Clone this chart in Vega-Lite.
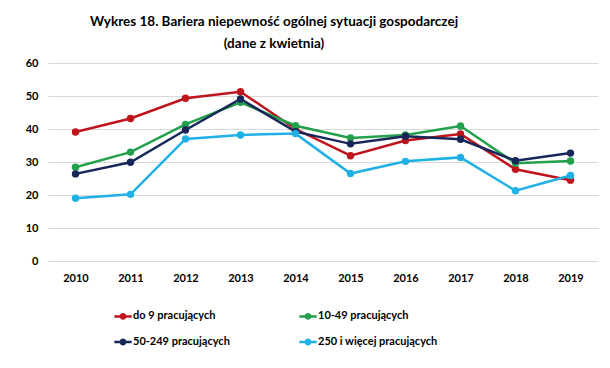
{
  "$schema": "https://vega.github.io/schema/vega-lite/v6.json",
  "width": 550,
  "height": 198,
  "autosize": {"type": "none"},
  "padding": {"left": 48, "top": 63, "right": 12, "bottom": 107},
  "background": "white",
  "title": {
    "text": ["Wykres 18. Bariera niepewność ogólnej sytuacji gospodarczej", "(dane z kwietnia)"],
    "font": "Lato",
    "fontSize": 13.5,
    "fontWeight": "bold",
    "color": "#000000",
    "anchor": "middle",
    "dx": -49,
    "offset": 7,
    "lineHeight": 22
  },
  "config": {
    "view": {"stroke": null},
    "axis": {"labelFont": "Lato", "labelFontWeight": "bold", "labelFontSize": 11, "labelColor": "#000000"}
  },
  "data": {
    "values": [
      {"rok": "2010", "grupa": "do 9 pracujących", "v": 39.1},
      {"rok": "2011", "grupa": "do 9 pracujących", "v": 43.2},
      {"rok": "2012", "grupa": "do 9 pracujących", "v": 49.3},
      {"rok": "2013", "grupa": "do 9 pracujących", "v": 51.3},
      {"rok": "2014", "grupa": "do 9 pracujących", "v": 40.0},
      {"rok": "2015", "grupa": "do 9 pracujących", "v": 31.9},
      {"rok": "2016", "grupa": "do 9 pracujących", "v": 36.5},
      {"rok": "2017", "grupa": "do 9 pracujących", "v": 38.5},
      {"rok": "2018", "grupa": "do 9 pracujących", "v": 27.8},
      {"rok": "2019", "grupa": "do 9 pracujących", "v": 24.5},
      {"rok": "2010", "grupa": "10-49 pracujących", "v": 28.4},
      {"rok": "2011", "grupa": "10-49 pracujących", "v": 33.0},
      {"rok": "2012", "grupa": "10-49 pracujących", "v": 41.4},
      {"rok": "2013", "grupa": "10-49 pracujących", "v": 48.1},
      {"rok": "2014", "grupa": "10-49 pracujących", "v": 41.0},
      {"rok": "2015", "grupa": "10-49 pracujących", "v": 37.3},
      {"rok": "2016", "grupa": "10-49 pracujących", "v": 38.2},
      {"rok": "2017", "grupa": "10-49 pracujących", "v": 40.9},
      {"rok": "2018", "grupa": "10-49 pracujących", "v": 29.6},
      {"rok": "2019", "grupa": "10-49 pracujących", "v": 30.3},
      {"rok": "2010", "grupa": "50-249 pracujących", "v": 26.4},
      {"rok": "2011", "grupa": "50-249 pracujących", "v": 29.9},
      {"rok": "2012", "grupa": "50-249 pracujących", "v": 39.7},
      {"rok": "2013", "grupa": "50-249 pracujących", "v": 49.1},
      {"rok": "2014", "grupa": "50-249 pracujących", "v": 39.2},
      {"rok": "2015", "grupa": "50-249 pracujących", "v": 35.5},
      {"rok": "2016", "grupa": "50-249 pracujących", "v": 37.8},
      {"rok": "2017", "grupa": "50-249 pracujących", "v": 36.9},
      {"rok": "2018", "grupa": "50-249 pracujących", "v": 30.4},
      {"rok": "2019", "grupa": "50-249 pracujących", "v": 32.7},
      {"rok": "2010", "grupa": "250 i więcej pracujących", "v": 19.0},
      {"rok": "2011", "grupa": "250 i więcej pracujących", "v": 20.2},
      {"rok": "2012", "grupa": "250 i więcej pracujących", "v": 37.0},
      {"rok": "2013", "grupa": "250 i więcej pracujących", "v": 38.2},
      {"rok": "2014", "grupa": "250 i więcej pracujących", "v": 38.6},
      {"rok": "2015", "grupa": "250 i więcej pracujących", "v": 26.5},
      {"rok": "2016", "grupa": "250 i więcej pracujących", "v": 30.2},
      {"rok": "2017", "grupa": "250 i więcej pracujących", "v": 31.4},
      {"rok": "2018", "grupa": "250 i więcej pracujących", "v": 21.3},
      {"rok": "2019", "grupa": "250 i więcej pracujących", "v": 25.9}
    ]
  },
  "encoding": {
    "x": {
      "field": "rok", "type": "ordinal",
      "scale": {"type": "point", "padding": 0.5},
      "axis": {"title": null, "labelAngle": 0, "domain": false, "ticks": false, "grid": false, "labelPadding": 11}
    },
    "y": {
      "field": "v", "type": "quantitative",
      "scale": {"domain": [0, 60]},
      "axis": {"title": null, "values": [0, 10, 20, 30, 40, 50, 60], "domain": false, "ticks": false, "gridColor": "#d9d9d9", "gridWidth": 1, "labelPadding": 10}
    },
    "color": {
      "field": "grupa", "type": "nominal",
      "scale": {
        "domain": ["do 9 pracujących", "10-49 pracujących", "50-249 pracujących", "250 i więcej pracujących"],
        "range": ["#c0141c", "#22a04b", "#17275a", "#1fb0e6"]
      },
      "legend": {
        "title": null,
        "orient": "none",
        "direction": "horizontal",
        "legendX": 65,
        "legendY": 243,
        "columns": 2,
        "columnPadding": 64,
        "rowPadding": 8,
        "labelFont": "Lato",
        "labelFontWeight": "bold",
        "labelFontSize": 11,
        "labelColor": "#000000",
        "labelOffset": 0,
        "symbolType": "M-1,0L1,0M-0.25,0A0.25,0.25 0 1,0 0.25,0A0.25,0.25 0 1,0 -0.25,0",
        "symbolSize": 300,
        "symbolStrokeWidth": 2.5
      }
    }
  },
  "mark": {"type": "line", "strokeWidth": 2.5, "point": {"filled": true, "size": 55}}
}
